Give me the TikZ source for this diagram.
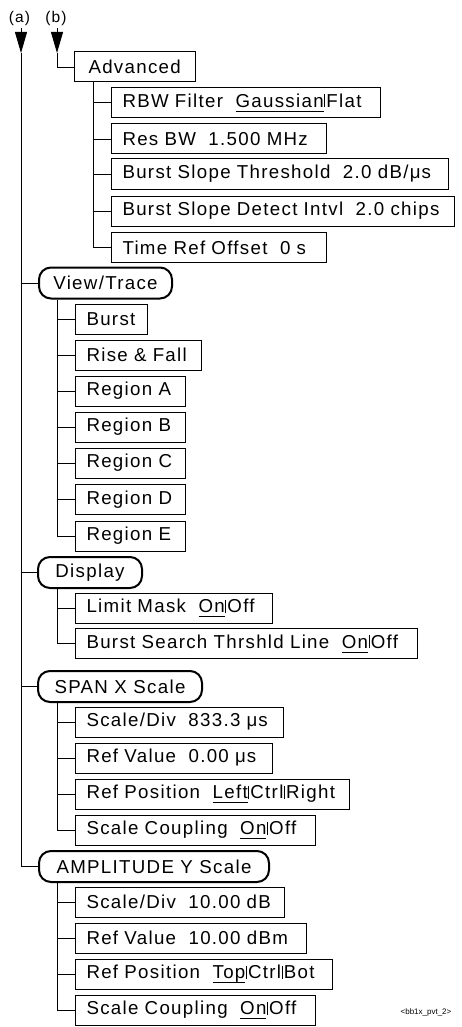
\documentclass[tikz,border=0pt]{standalone}
\usepackage{fontspec}
\setmainfont{Liberation Sans}
\newfontfamily\bxf{Liberation Sans}[LetterSpace=7]
\usetikzlibrary{arrows.meta}
\newcommand\ulx[1]{\setbox0\hbox{#1}\rlap{\rule[-4.5pt]{\wd0}{0.9pt}}\box0}
\newcommand\vsep{\kern0.6pt\rule[0pt]{0.9pt}{13pt}\kern1.2pt}
\begin{document}
\begin{tikzpicture}[x=1pt,y=-1pt,
  base/.style={anchor=west, inner xsep=11pt, inner ysep=0pt, font=\bxf\fontsize{18.7}{22}\selectfont},
  bx/.style={base, draw, line width=1pt, minimum height=30pt, text width=#1, align=left},
  hd/.style={base, draw, line width=2pt, rounded corners=12pt, minimum height=31pt, minimum width=#1, align=center},
  conn/.style={line width=0.9pt},
  lbl/.style={font=\bxf\fontsize{15.5}{17}\selectfont, inner sep=0pt},
  tagf/.style={font=\fontsize{8}{9}\selectfont, inner sep=0pt}]
\useasboundingbox (0,0) rectangle (461,1027);

\node[lbl] (la) at (19.5,18) {(a)};
\node[lbl] (lb) at (56,18) {(b)};
\coordinate (atop) at (21,28); \coordinate (atip) at (21,53);
\coordinate (btop) at (57,28); \coordinate (btip) at (57,53);
\draw[conn, -{Triangle[width=12pt,length=21pt]}] (atop) -- (atip);
\draw[conn, -{Triangle[width=12pt,length=21pt]}] (btop) -- (btip);

% Advanced
\node[bx=93pt, inner xsep=14pt] (adv) at (74,67) {Advanced};
\node[bx=247pt] (rbw) at (111,102.5) {RBW Filter~~\ulx{Gaussian}\vsep Flat};
\node[bx=193pt] (resbw) at (111,139) {Res BW~~1.500 MHz};
\node[bx=315pt] (bst) at (111,174) {Burst Slope Threshold~~2.0 dB/μ\kern1pt s};
\node[bx=321pt] (bsd) at (111,211) {Burst Slope Detect Intvl~~2.0 chips};
\node[bx=193pt] (tro) at (111,247.5) {Time Ref Offset~~0 s};
\draw[conn] (btip) |- (adv.west);
\foreach \c in {rbw,resbw,bst,bsd,tro}
  \draw[conn] (adv.south west) ++(19,0) |- (\c.west);

% View/Trace
\node[hd=133pt] (vt) at (38,283) {View/Trace};
\node[bx=50pt] (burst) at (75,319) {Burst};
\node[bx=104pt] (rise) at (75,355) {Rise \& Fall};
\node[bx=88pt] (rega) at (75,391) {Region A};
\node[bx=88pt] (regb) at (75,427) {Region B};
\node[bx=88pt] (regc) at (75,463) {Region C};
\node[bx=88pt] (regd) at (75,499.5) {Region D};
\node[bx=88pt] (rege) at (75,536) {Region E};
\foreach \c in {burst,rise,rega,regb,regc,regd,rege}
  \draw[conn] (vt.south west) ++(19,0) |- (\c.west);

% Display
\node[hd=104pt] (disp) at (37,572.5) {Display};
\node[bx=175pt] (limit) at (75,608) {Limit Mask~~\ulx{On}\vsep Off};
\node[bx=320pt] (bss) at (75,643.5) {Burst Search Thrshld Line~~\ulx{On}\vsep Off};
\foreach \c in {limit,bss}
  \draw[conn] (disp.south west) ++(20,0) |- (\c.west);

% SPAN X Scale
\node[hd=164pt] (span) at (37,686.5) {SPAN X Scale};
\node[bx=186pt] (sda) at (75,722) {Scale/Div~~833.3 μ\kern1pt s};
\node[bx=175pt] (rva) at (75,758) {Ref Value~~0.00 μ\kern1pt s};
\node[bx=252pt] (rpa) at (75,794) {Ref Position~~\ulx{Left}\vsep Ctrl\vsep Right};
\node[bx=218pt] (sca) at (75,830) {Scale Coupling~~\ulx{On}\vsep Off};
\foreach \c in {sda,rva,rpa,sca}
  \draw[conn] (span.south west) ++(20,0) |- (\c.west);

% AMPLITUDE Y Scale
\node[hd=230pt] (ampl) at (38,866.5) {AMPLITUDE Y Scale};
\node[bx=187pt] (sdb) at (75,902) {Scale/Div~~10.00 dB};
\node[bx=209pt] (rvb) at (75,938) {Ref Value~~10.00 dBm};
\node[bx=235pt] (rpb) at (75,974) {Ref Position~~\ulx{Top}\vsep Ctrl\vsep Bot};
\node[bx=218pt] (scb) at (75,1010) {Scale Coupling~~\ulx{On}\vsep Off};
\foreach \c in {sdb,rvb,rpb,scb}
  \draw[conn] (ampl.south west) ++(19,0) |- (\c.west);

% main line (a)
\foreach \c in {vt,disp,span,ampl}
  \draw[conn] (atip) |- (\c.west);

\node[tagf] (tag) at (426,1012) {<bb1x\_pvt\_2>};
\end{tikzpicture}
\end{document}
